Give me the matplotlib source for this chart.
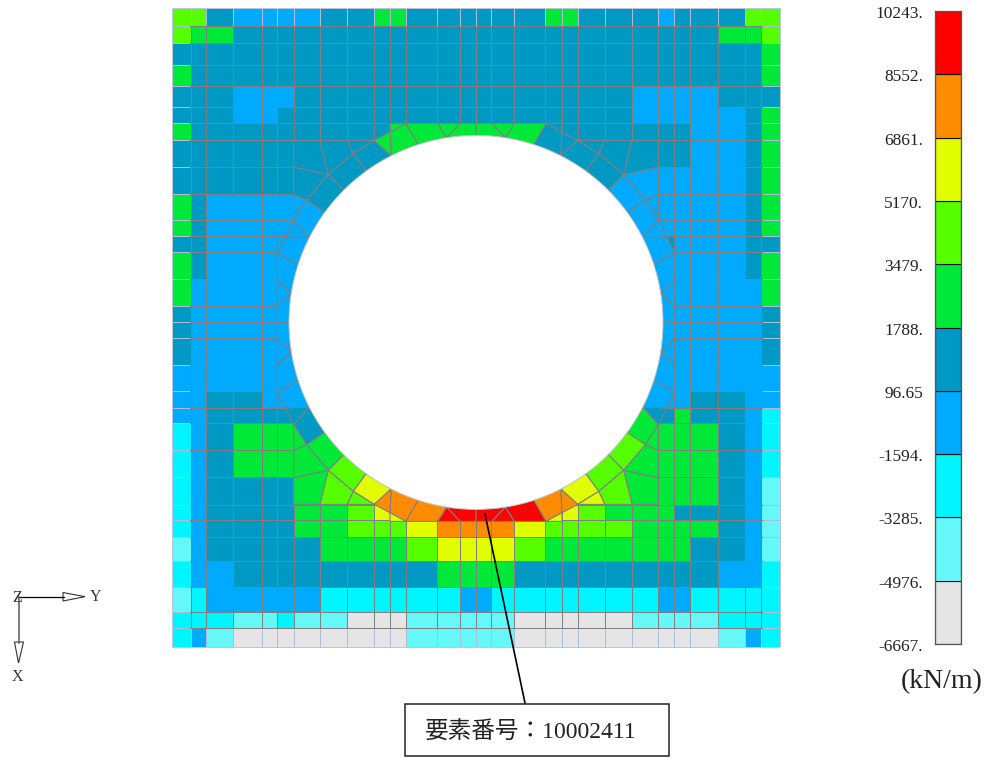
import numpy as np
import matplotlib
matplotlib.use('Agg')
import matplotlib.pyplot as plt
from matplotlib.colors import ListedColormap, BoundaryNorm
from matplotlib.patches import Polygon, Circle, Rectangle

plt.rcParams['font.family'] = ['Liberation Serif', 'Noto Sans CJK JP']

# legend bands, lowest first
band_colors = ['#E5E5E5', '#66F8F8', '#00F5FF', '#00AAFF', '#0099C4',
               '#00E838', '#55FF00', '#E1FF00', '#FF8C00', '#FF0000']
level_labels = ['-6667.', '-4976.', '-3285.', '-1594.', '96.65', '1788.',
                '3479.', '5170.', '6861.', '8552.', '10243.']

# mesh lines (drawing units, same as picture pixels)
x_edges = [172, 191, 206, 233, 262, 277.3, 294, 320, 347.3, 374.3, 390, 406, 437.7, 460.3, 476,
           491.7, 514.3, 545.7, 562.7, 578, 605, 632, 658, 674.7, 690.7, 718.7, 745.7, 761.7, 780]
y_edges = [8, 26.7, 43.3, 65, 86.3, 107.7, 123.3, 140.3, 167, 194.3, 220, 236.7, 252.7, 279.3, 306, 322.3,
           338.3, 365.3, 391.3, 408.3, 423.7, 450.7, 477.7, 505, 520.7, 537.3, 561, 587.3, 612, 628.3, 647.3]

# band index of each regular cell, one string per row
cell_bands = [
    '66433334455444' + '44455444344466',
    '65544444444444' + '44444444444556',
    '44444444444444' + '44444444444445',
    '54444444444444' + '44444444444445',
    '44433344444444' + '44444443333444',
    '44433444444444' + '44444443333345',
    '54444444444444' + '44444444443345',
    '44444444444444' + '44444444443345',
    '44444444444444' + '44444444333345',
    '54333344444444' + '44444443333345',
    '54333344444444' + '44444443333345',
    '44333333333333' + '33333333333344',
    '54333333333333' + '33333333333345',
    '53333333333333' + '33333333333335',
    '43333333333333' + '33333333333334',
    '43333333333333' + '33333333333334',
    '43333333333333' + '33333333333334',
    '33333333333333' + '33333333333333',
    '33443333333333' + '33333333334433',
    '33444444444444' + '44444444454432',
    '23455555555555' + '55555555555432',
    '23455555555555' + '55555555555432',
    '23444455555555' + '55555555555431',
    '23444455677899' + '99977655544431',
    '23444455666788' + '88766665555431',
    '13444445555677' + '77655555554431',
    '23344444444455' + '55444444444332',
    '12333332222223' + '32222222332222',
    '22211211000111' + '11000001111222',
    '23100000000111' + '11000000000132',
]

# opening in the plate
hole_center = (476, 322.4)
hole_radius = 187
ring_angles = [0, 9, 18, 27, 36, 45, 54, 63, 72, 81, 90]

# free nodes around the opening, offsets from the centre in the upper left quarter
nodes = {
    'O': (-198.7, 0), 'A': (-198.7, -16.3), 'B': (-198.7, -43), 'C': (-198.7, -69.7),
    'T': (-198.7, -85.7), 'S': (-190.7, -85.7), 'D': (-182.3, -102.4), 'E': (-169.3, -122.4),
    'F': (-182.3, -128), 'G': (-147.7, -148), 'H': (-182.3, -155.4), 'V': (-182.3, -182),
    'I': (-156, -182), 'J': (-122.7, -169), 'K': (-128.7, -182), 'L': (-101.7, -182),
    'U': (-86, -190.4), 'M': (-86, -199), 'N': (-70, -199), 'P': (-38.3, -199),
    'Q': (-15.7, -199), 'R': (0, -199),
}
for k, a in enumerate(ring_angles):
    nodes['c%d' % k] = (-hole_radius * np.cos(np.radians(a)), -hole_radius * np.sin(np.radians(a)))

elements = [
    ['c0', 'c1', 'A', 'O'], ['A', 'c1', 'B'], ['c1', 'c2', 'C', 'B'], ['c2', 'c3', 'S', 'C'],
    ['c3', 'D', 'S'], ['c3', 'c4', 'E', 'D'], ['c4', 'c5', 'G', 'E'], ['c5', 'c6', 'J', 'G'],
    ['c6', 'c7', 'L', 'J'], ['c7', 'c8', 'N', 'U'], ['c7', 'U', 'L'], ['c8', 'c9', 'P', 'N'],
    ['P', 'c9', 'Q'], ['c9', 'c10', 'R', 'Q'],
    ['C', 'S', 'T'], ['D', 'E', 'F'], ['F', 'E', 'G', 'H'], ['H', 'G', 'I', 'V'],
    ['I', 'G', 'J', 'K'], ['K', 'J', 'L'], ['U', 'N', 'M'],
]

# band of each element above, per quarter: ring elements, then the wedges outside them
quarter_bands = {
    (1, 1): '33333344455555' + '3344445',
    (-1, 1): '33333334444555' + '4334444',
    (1, -1): '33334456788899' + '3555667',
    (-1, -1): '33334566788999' + '3555677',
}

line_gray = '#808080'
edge_pale = '#A9BEDC'


def v_edge(x, y0, y1, color, z):
    # mesh edge as a filled strip one pixel wide, strokes came out uneven
    ax.add_patch(Rectangle((np.floor(x), y0), 1, y1 - y0, fc=color, lw=0,
                           antialiased=False, zorder=z))


def h_edge(y, x0, x1, color, z):
    ax.add_patch(Rectangle((x0, np.floor(y)), x1 - x0, 1, fc=color, lw=0,
                           antialiased=False, zorder=z))


fig = plt.figure(figsize=(9.91, 7.58), dpi=100)
ax = fig.add_axes([0, 0, 1, 1])
ax.set_xlim(0, 991)
ax.set_ylim(758, 0)
ax.axis('off')

cmap = ListedColormap(band_colors)
norm = BoundaryNorm(np.arange(-0.5, 10.5), cmap.N)
grid = np.array([[int(ch) for ch in row] for row in cell_bands])
ax.pcolormesh(x_edges, y_edges, grid, cmap=cmap, norm=norm, zorder=1)

for x in x_edges:
    v_edge(x, y_edges[0], y_edges[-1], line_gray, 1.2)
    # outer rows have paler lines
    v_edge(x, y_edges[0], y_edges[1] - 1, edge_pale, 1.5)
    v_edge(x, y_edges[-2] + 1, y_edges[-1], edge_pale, 1.5)
for y in y_edges:
    h_edge(y, x_edges[0], x_edges[-1], line_gray, 1.2)
    # and so have the outer columns
    h_edge(y, x_edges[0], x_edges[1] - 1, edge_pale, 1.5)
    h_edge(y, x_edges[-2] + 1, x_edges[-1], edge_pale, 1.5)
h_edge(y_edges[0], x_edges[0], x_edges[-1], '#B8C6DE', 1.6)
h_edge(y_edges[-1], x_edges[0], x_edges[-1], '#B8C6DE', 1.6)
v_edge(x_edges[0], y_edges[0], y_edges[-1], '#B8C6DE', 1.6)
v_edge(x_edges[-1], y_edges[0], y_edges[-1], '#B8C6DE', 1.6)

# elements around the opening, mirrored into each quarter
for (sx, sy), bands in quarter_bands.items():
    for elem, b in zip(elements, bands):
        pts = [(hole_center[0] + sx * nodes[n][0], hole_center[1] + sy * nodes[n][1]) for n in elem]
        ax.add_patch(Polygon(pts, closed=True, fc=band_colors[int(b)], ec=line_gray, lw=0.8, zorder=2))

ax.add_patch(Circle(hole_center, hole_radius, fc='white', ec='#C4C4C4', lw=0.7, zorder=3))

# leader and element label
ax.plot([485, 525], [514, 703], color='black', lw=1.2, zorder=4)
ax.add_patch(Rectangle((405, 703.5), 264, 52.5, fc='white', ec='#222222', lw=1.1, zorder=5))
ax.text(531, 733, '要素番号：10002411', fontsize=17, ha='center', va='center', color='#222222', zorder=6)

# global axes symbol
ax.plot([18, 64], [596.7, 596.7], color='black', lw=0.9)
ax.add_patch(Polygon([(63, 592.5), (63, 601), (85, 596.7)], closed=True, fc='white', ec='#333333', lw=0.8))
ax.plot([18.5, 18.5], [597, 643], color='#666666', lw=1.2)
ax.add_patch(Polygon([(14.5, 642), (23.5, 642), (18.5, 663)], closed=True, fc='white', ec='#333333', lw=0.8))
ax.text(17, 598, 'Z', fontsize=11.5, ha='center', va='center', color='#333333')
ax.text(96, 597, 'Y', fontsize=11.5, ha='center', va='center', color='#333333')
ax.text(17, 677, 'X', fontsize=11.5, ha='center', va='center', color='#333333')

# legend bar
cax = fig.add_axes([935 / 991, 1 - 644 / 758, 26.3 / 991, 633 / 758])
cax.bar(0, height=1, bottom=np.arange(10), width=1, color=band_colors, edgecolor='#111111', linewidth=0.8)
cax.set_xlim(-0.5, 0.5)
cax.set_ylim(0, 10)
cax.set_xticks([])
cax.set_yticks([])
for i, lab in enumerate(level_labels):
    cax.annotate(lab, (0, i), xycoords=('axes fraction', 'data'), xytext=(-8.5, -2.2),
                 textcoords='offset points', ha='right', va='center', fontsize=12.5, color='#222222')
for s in cax.spines.values():
    s.set_color('#555555')
    s.set_linewidth(0.9)

ax.text(941.5, 682, '(kN/m)', fontsize=20, ha='center', va='center', color='#222222')

fig.savefig('out.png', dpi=100)
